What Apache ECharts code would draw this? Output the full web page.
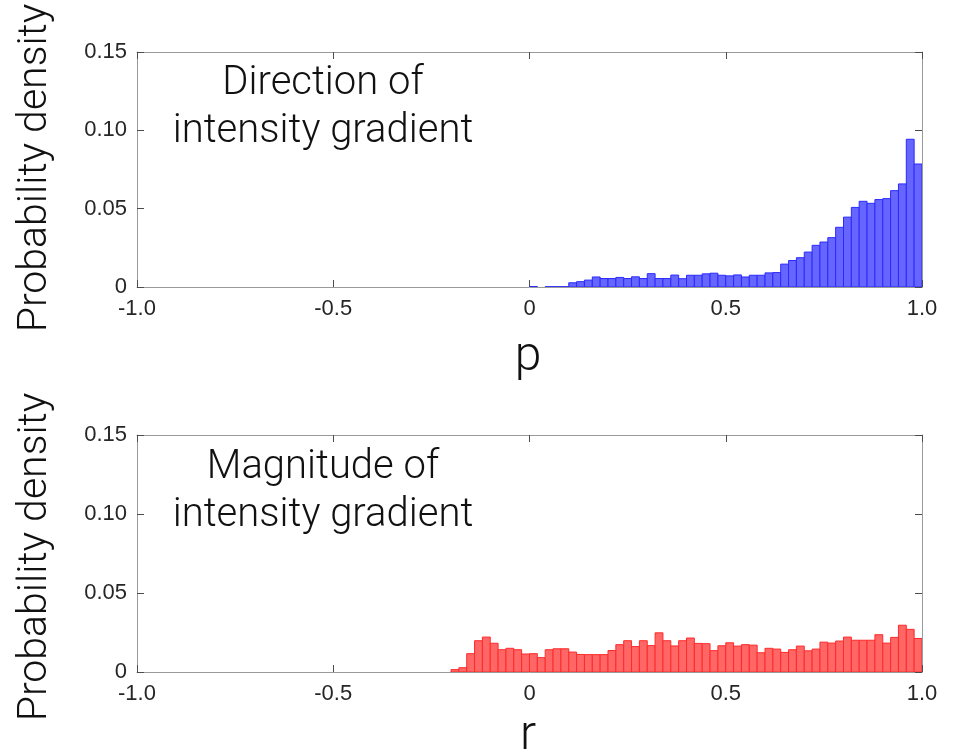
<!DOCTYPE html>
<html>
<head>
<meta charset="utf-8">
<script src="https://cdn.jsdelivr.net/npm/echarts@6/dist/echarts.min.js"></script>
<style>
  html, body { margin: 0; padding: 0; background: #fff; }
  #chart { width: 957px; height: 751px; }
</style>
</head>
<body>
<div id="chart"></div>
<script>
// Histogram bin width and first bin edge for each panel
const binWidth = 0.02;
const pStart = 0.0;
const rStart = -0.2;

// Probability density per bin, direction of intensity gradient (p), bins 0.00 .. 0.98
const pValues = [
  0.0003, 0, 0.0002, 0.0002, 0.0002,
  0.0027, 0.0034, 0.0044, 0.0064, 0.0054,
  0.0054, 0.0061, 0.0054, 0.0065, 0.0054,
  0.0085, 0.0054, 0.0054, 0.0076, 0.0053,
  0.0075, 0.0075, 0.0084, 0.0088, 0.0075,
  0.0071, 0.0077, 0.0064, 0.0075, 0.0075,
  0.0090, 0.0092, 0.0146, 0.0169, 0.0187,
  0.0223, 0.0266, 0.0287, 0.0315, 0.0381,
  0.0446, 0.0508, 0.0547, 0.0534, 0.0558,
  0.0564, 0.0615, 0.0658, 0.0943, 0.0785
];

// Probability density per bin, magnitude of intensity gradient (r), bins -0.20 .. 0.98
const rValues = [
  0.0015, 0.0027, 0.0116, 0.0198, 0.0221,
  0.0182, 0.0141, 0.0150, 0.0141, 0.0114,
  0.0116, 0.0091, 0.0141, 0.0147, 0.0147,
  0.0126, 0.0111, 0.0110, 0.0110, 0.0110,
  0.0136, 0.0173, 0.0198, 0.0161, 0.0198,
  0.0167, 0.0248, 0.0198, 0.0165, 0.0198,
  0.0215, 0.0181, 0.0179, 0.0135, 0.0166,
  0.0185, 0.0164, 0.0173, 0.0170, 0.0122,
  0.0150, 0.0145, 0.0124, 0.0141, 0.0164,
  0.0134, 0.0145, 0.0189, 0.0183, 0.0196,
  0.0221, 0.0201, 0.0201, 0.0201, 0.0236,
  0.0183, 0.0219, 0.0296, 0.0270, 0.0212
];

// Axis ranges and tick labels
const xMin = -1, xMax = 1, xStep = 0.5;
const yMin = 0, yMax = 0.15, yStep = 0.05;
const xTickLabels = { '-1': '-1.0', '-0.5': '-0.5', '0': '0', '0.5': '0.5', '1': '1.0' };
const yTickLabels = { '0': '0', '0.05': '0.05', '0.1': '0.10', '0.15': '0.15' };

// Panel texts
const pTitle = ['Direction of', 'intensity gradient'];
const rTitle = ['Magnitude of', 'intensity gradient'];
const yName = 'Probability density';
const pName = 'p';
const rName = 'r';

function binData(start, values) {
  return values.map((v, i) => [+(start + i * binWidth).toFixed(4), +(start + (i + 1) * binWidth).toFixed(4), v]);
}

const tickFont = { fontFamily: 'Liberation Sans, Arial, sans-serif', fontSize: 22, color: '#262626' };
const axisGray = '#9a9a9a';
const tickGray = '#4d4d4d';

function fmtX(v) { const k = String(+v.toFixed(2)); return xTickLabels[k] !== undefined ? xTickLabels[k] : k; }
function fmtY(v) { const k = String(+v.toFixed(2)); return yTickLabels[k] !== undefined ? yTickLabels[k] : k; }

function xAxes(gridIndex) {
  return [
    {
      type: 'value', gridIndex, min: xMin, max: xMax, interval: xStep, position: 'bottom',
      axisLine: { show: true, onZero: false, lineStyle: { color: axisGray, width: 1 } },
      axisTick: { show: true, inside: true, length: 7, lineStyle: { color: tickGray } },
      axisLabel: Object.assign({ margin: 11, formatter: fmtX }, tickFont),
      splitLine: { show: false }
    },
    {
      type: 'value', gridIndex, min: xMin, max: xMax, interval: xStep, position: 'top',
      axisLine: { show: true, onZero: false, lineStyle: { color: axisGray, width: 1 } },
      axisTick: { show: true, inside: true, length: 7, lineStyle: { color: tickGray } },
      axisLabel: { show: false },
      splitLine: { show: false }
    }
  ];
}

function yAxes(gridIndex) {
  return [
    {
      type: 'value', gridIndex, min: yMin, max: yMax, interval: yStep, position: 'left',
      axisLine: { show: true, onZero: false, lineStyle: { color: axisGray, width: 1 } },
      axisTick: { show: true, inside: true, length: 7, lineStyle: { color: tickGray } },
      axisLabel: Object.assign({ margin: 10, formatter: fmtY }, tickFont),
      splitLine: { show: false }
    },
    {
      type: 'value', gridIndex, min: yMin, max: yMax, interval: yStep, position: 'right',
      axisLine: { show: true, onZero: false, lineStyle: { color: axisGray, width: 1 } },
      axisTick: { show: true, inside: true, length: 7, lineStyle: { color: tickGray } },
      axisLabel: { show: false },
      splitLine: { show: false }
    }
  ];
}

function histSeries(xAxisIndex, yAxisIndex, data, fill, edge) {
  return {
    type: 'custom',
    xAxisIndex, yAxisIndex,
    data: data.filter(d => d[2] > 0),
    encode: { x: [0, 1], y: 2 },
    clip: true,
    renderItem: function (params, api) {
      const p0 = api.coord([api.value(0), 0]);
      const p1 = api.coord([api.value(1), api.value(2)]);
      return {
        type: 'rect',
        shape: { x: p0[0], y: p1[1], width: p1[0] - p0[0], height: p0[1] - p1[1] },
        style: { fill: fill, stroke: edge, lineWidth: 1 }
      };
    }
  };
}

const bigFont = 'Roboto, "Liberation Sans", sans-serif';

function textEl(str, x, y, size, rotation) {
  return {
    type: 'text', x, y, rotation: rotation || 0,
    style: { text: str, fontFamily: bigFont, fontWeight: 300, fontSize: size, fill: '#111', align: 'center', verticalAlign: 'middle' }
  };
}

const chart = echarts.init(document.getElementById('chart'), null, { renderer: 'canvas' });

chart.setOption({
  animation: false,
  backgroundColor: '#fff',
  grid: [
    { left: 137, top: 52, width: 785, height: 235, containLabel: false },
    { left: 137, top: 435, width: 785, height: 237, containLabel: false }
  ],
  xAxis: [].concat(xAxes(0), xAxes(1)),
  yAxis: [].concat(yAxes(0), yAxes(1)),
  series: [
    histSeries(0, 0, binData(pStart, pValues), '#6666ff', '#2a2aff'),
    histSeries(2, 2, binData(rStart, rValues), '#ff6666', '#ff2a2a')
  ],
  graphic: [
    textEl(pTitle[0], 323, 84, 40),
    textEl(pTitle[1], 323, 132, 40),
    textEl(rTitle[0], 323, 468, 40),
    textEl(rTitle[1], 323, 516, 40),
    textEl(yName, 36, 168, 41, Math.PI / 2),
    textEl(yName, 36, 557, 41, Math.PI / 2),
    textEl(pName, 528, 358, 48),
    textEl(rName, 528, 737, 48)
  ]
});
</script>
</body>
</html>
